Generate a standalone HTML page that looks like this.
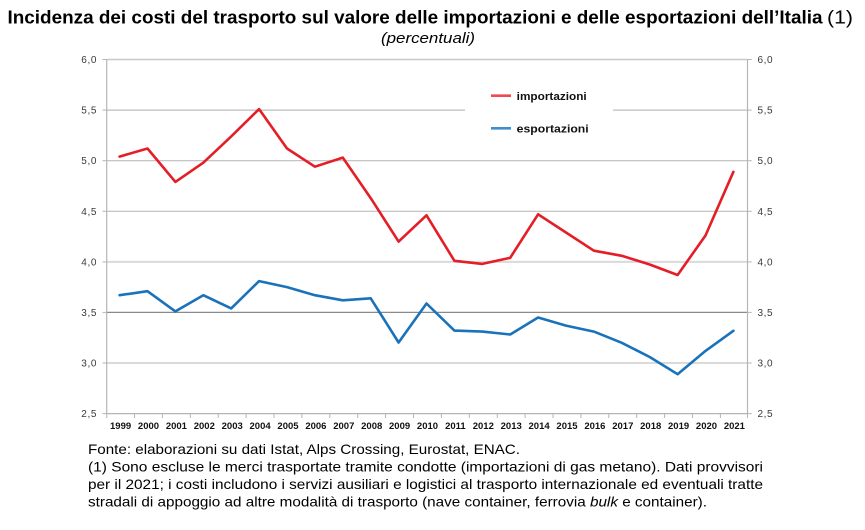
<!DOCTYPE html>
<html>
<head>
<meta charset="utf-8">
<style>
html,body{margin:0;padding:0;background:#fff;}
svg{display:block;}
</style>
</head>
<body>
<svg width="865" height="530" viewBox="0 0 865 530" xmlns="http://www.w3.org/2000/svg" font-family="Liberation Sans, Arial, sans-serif">
  <rect width="865" height="530" fill="#fff"/>
  <!-- Title -->
  <text x="7.5" y="23.5" font-size="18" font-weight="bold" fill="#000" textLength="815" lengthAdjust="spacingAndGlyphs">Incidenza dei costi del trasporto sul valore delle importazioni e delle esportazioni dell’Italia</text>
  <text x="827" y="23.5" font-size="18" fill="#000" textLength="26" lengthAdjust="spacingAndGlyphs">(1)</text>
  <text x="381" y="43" font-size="15" font-style="italic" fill="#000" textLength="94" lengthAdjust="spacingAndGlyphs">(percentuali)</text>

  <!-- Gridlines -->
  <line x1="106.7" y1="59.5" x2="747.5" y2="59.5" stroke="#c8c8c8" stroke-width="1.5"/>
  <line x1="106.7" y1="110.1" x2="465" y2="110.1" stroke="#bdbdbd" stroke-width="1.2"/>
  <line x1="613" y1="110.1" x2="747.5" y2="110.1" stroke="#bdbdbd" stroke-width="1.2"/>
  <line x1="106.7" y1="160.7" x2="747.5" y2="160.7" stroke="#bdbdbd" stroke-width="1.2"/>
  <line x1="106.7" y1="211.3" x2="747.5" y2="211.3" stroke="#bdbdbd" stroke-width="1.2"/>
  <line x1="106.7" y1="261.9" x2="747.5" y2="261.9" stroke="#dadada" stroke-width="2"/>
  <line x1="106.7" y1="312.4" x2="747.5" y2="312.4" stroke="#8a8a8a" stroke-width="1.2"/>
  <line x1="106.7" y1="363.0" x2="747.5" y2="363.0" stroke="#dadada" stroke-width="2"/>
  <line x1="106.7" y1="413.6" x2="747.5" y2="413.6" stroke="#b5b5b5" stroke-width="1.2"/>

  <!-- Axes -->
  <line x1="106.7" y1="59.5" x2="106.7" y2="413.6" stroke="#b5b5b5" stroke-width="1.2"/>
  <line x1="747.5" y1="59.5" x2="747.5" y2="413.6" stroke="#b5b5b5" stroke-width="1.2"/>

  <!-- Y ticks left/right -->
  <g stroke="#b5b5b5" stroke-width="1">
    <line x1="102.5" y1="59.5" x2="106.7" y2="59.5"/>
    <line x1="102.5" y1="110.1" x2="106.7" y2="110.1"/>
    <line x1="102.5" y1="160.7" x2="106.7" y2="160.7"/>
    <line x1="102.5" y1="211.3" x2="106.7" y2="211.3"/>
    <line x1="102.5" y1="261.9" x2="106.7" y2="261.9"/>
    <line x1="102.5" y1="312.4" x2="106.7" y2="312.4"/>
    <line x1="102.5" y1="363.0" x2="106.7" y2="363.0"/>
    <line x1="102.5" y1="413.6" x2="106.7" y2="413.6"/>
    <line x1="747.5" y1="59.5" x2="751.7" y2="59.5"/>
    <line x1="747.5" y1="110.1" x2="751.7" y2="110.1"/>
    <line x1="747.5" y1="160.7" x2="751.7" y2="160.7"/>
    <line x1="747.5" y1="211.3" x2="751.7" y2="211.3"/>
    <line x1="747.5" y1="261.9" x2="751.7" y2="261.9"/>
    <line x1="747.5" y1="312.4" x2="751.7" y2="312.4"/>
    <line x1="747.5" y1="363.0" x2="751.7" y2="363.0"/>
    <line x1="747.5" y1="413.6" x2="751.7" y2="413.6"/>
  </g>
  <!-- X ticks -->
  <g stroke="#b5b5b5" stroke-width="1">
    <line x1="106.7" y1="413.6" x2="106.7" y2="418"/>
    <line x1="134.5" y1="413.6" x2="134.5" y2="418"/>
    <line x1="162.4" y1="413.6" x2="162.4" y2="418"/>
    <line x1="190.3" y1="413.6" x2="190.3" y2="418"/>
    <line x1="218.2" y1="413.6" x2="218.2" y2="418"/>
    <line x1="246.1" y1="413.6" x2="246.1" y2="418"/>
    <line x1="274.0" y1="413.6" x2="274.0" y2="418"/>
    <line x1="301.9" y1="413.6" x2="301.9" y2="418"/>
    <line x1="329.8" y1="413.6" x2="329.8" y2="418"/>
    <line x1="357.7" y1="413.6" x2="357.7" y2="418"/>
    <line x1="385.6" y1="413.6" x2="385.6" y2="418"/>
    <line x1="413.5" y1="413.6" x2="413.5" y2="418"/>
    <line x1="441.4" y1="413.6" x2="441.4" y2="418"/>
    <line x1="469.3" y1="413.6" x2="469.3" y2="418"/>
    <line x1="497.2" y1="413.6" x2="497.2" y2="418"/>
    <line x1="525.1" y1="413.6" x2="525.1" y2="418"/>
    <line x1="553.0" y1="413.6" x2="553.0" y2="418"/>
    <line x1="580.9" y1="413.6" x2="580.9" y2="418"/>
    <line x1="608.8" y1="413.6" x2="608.8" y2="418"/>
    <line x1="636.7" y1="413.6" x2="636.7" y2="418"/>
    <line x1="664.6" y1="413.6" x2="664.6" y2="418"/>
    <line x1="692.5" y1="413.6" x2="692.5" y2="418"/>
    <line x1="720.4" y1="413.6" x2="720.4" y2="418"/>
    <line x1="747.5" y1="413.6" x2="747.5" y2="418"/>
  </g>

  <!-- Y labels left -->
  <g font-size="10" fill="#3a3a3a" text-anchor="end" letter-spacing="0.6">
    <text x="97" y="63">6,0</text>
    <text x="97" y="113.6">5,5</text>
    <text x="97" y="164.2">5,0</text>
    <text x="97" y="214.8">4,5</text>
    <text x="97" y="265.4">4,0</text>
    <text x="97" y="315.9">3,5</text>
    <text x="97" y="366.5">3,0</text>
    <text x="97" y="417.1">2,5</text>
  </g>
  <!-- Y labels right -->
  <g font-size="10" fill="#3a3a3a" letter-spacing="0.6">
    <text x="757.5" y="63">6,0</text>
    <text x="757.5" y="113.6">5,5</text>
    <text x="757.5" y="164.2">5,0</text>
    <text x="757.5" y="214.8">4,5</text>
    <text x="757.5" y="265.4">4,0</text>
    <text x="757.5" y="315.9">3,5</text>
    <text x="757.5" y="366.5">3,0</text>
    <text x="757.5" y="417.1">2,5</text>
  </g>

  <!-- X labels -->
  <g font-size="9.5" font-weight="bold" fill="#111" text-anchor="middle">
    <text x="120.6" y="429">1999</text>
    <text x="148.5" y="429">2000</text>
    <text x="176.4" y="429">2001</text>
    <text x="204.3" y="429">2002</text>
    <text x="232.2" y="429">2003</text>
    <text x="260.1" y="429">2004</text>
    <text x="288.0" y="429">2005</text>
    <text x="315.9" y="429">2006</text>
    <text x="343.8" y="429">2007</text>
    <text x="371.7" y="429">2008</text>
    <text x="399.6" y="429">2009</text>
    <text x="427.5" y="429">2010</text>
    <text x="455.4" y="429">2011</text>
    <text x="483.3" y="429">2012</text>
    <text x="511.2" y="429">2013</text>
    <text x="539.1" y="429">2014</text>
    <text x="567.0" y="429">2015</text>
    <text x="594.9" y="429">2016</text>
    <text x="622.8" y="429">2017</text>
    <text x="650.7" y="429">2018</text>
    <text x="678.6" y="429">2019</text>
    <text x="706.5" y="429">2020</text>
    <text x="734.4" y="429">2021</text>
  </g>

  <!-- Series: importazioni -->
  <polyline fill="none" stroke="#e41e26" stroke-width="2.6" stroke-linejoin="round" stroke-linecap="round"
    points="119.6,156.6 147.5,148.5 175.4,181.9 203.3,162.7 231.2,136.4 259.1,109.1 287.0,148.5 314.9,166.7 342.8,157.6 370.7,198.1 398.6,241.6 426.5,215.3 454.4,260.8 482.3,263.9 510.2,257.8 538.1,214.3 566.0,232.5 593.9,250.7 621.8,255.8 649.7,264.5 677.6,275.0 705.5,235.5 733.4,171.8"/>
  <!-- Series: esportazioni -->
  <polyline fill="none" stroke="#1a72bb" stroke-width="2.6" stroke-linejoin="round" stroke-linecap="round"
    points="119.6,295.2 147.5,291.2 175.4,311.4 203.3,295.2 231.2,308.4 259.1,281.1 287.0,287.1 314.9,295.2 342.8,300.3 370.7,298.3 398.6,342.5 426.5,303.5 454.4,330.6 482.3,331.6 510.2,334.5 538.1,317.5 566.0,325.6 593.9,331.6 621.8,342.8 649.7,357.0 677.6,374.2 705.5,350.9 733.4,330.8"/>

  <!-- Legend -->
  <line x1="491" y1="95.7" x2="511" y2="95.7" stroke="#ee4a4f" stroke-width="2.6"/>
  <text x="516.7" y="99.8" font-size="11" font-weight="bold" fill="#111" textLength="70" lengthAdjust="spacingAndGlyphs">importazioni</text>
  <line x1="491" y1="128.3" x2="511" y2="128.3" stroke="#3b8fd0" stroke-width="2.6"/>
  <text x="516.7" y="132.4" font-size="11" font-weight="bold" fill="#111" textLength="72" lengthAdjust="spacingAndGlyphs">esportazioni</text>

  <!-- Footnotes -->
  <g font-size="14" fill="#000">
    <text x="88" y="454" textLength="432" lengthAdjust="spacingAndGlyphs">Fonte: elaborazioni su dati Istat, Alps Crossing, Eurostat, ENAC.</text>
    <text x="88" y="471.5" textLength="675" lengthAdjust="spacingAndGlyphs">(1) Sono escluse le merci trasportate tramite condotte (importazioni di gas metano). Dati provvisori</text>
    <text x="88" y="489" textLength="675" lengthAdjust="spacingAndGlyphs">per il 2021; i costi includono i servizi ausiliari e logistici al trasporto internazionale ed eventuali tratte</text>
    <text x="88" y="506.5" textLength="619" lengthAdjust="spacingAndGlyphs">stradali di appoggio ad altre modalità di trasporto (nave container, ferrovia <tspan font-style="italic">bulk</tspan> e container).</text>
  </g>
</svg>
</body>
</html>
